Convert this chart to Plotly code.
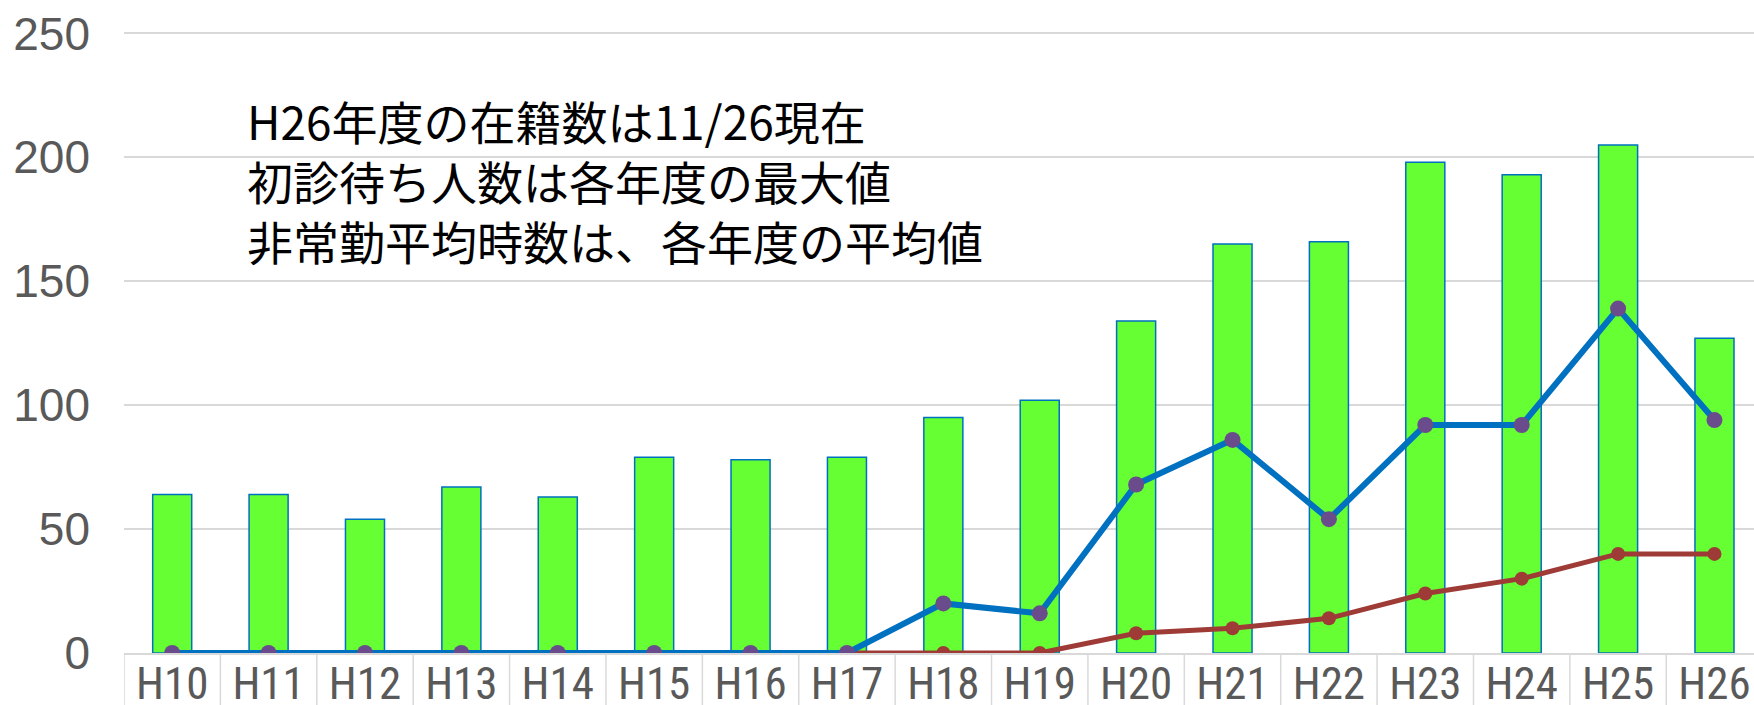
import plotly.graph_objects as go

categories = ["H10", "H11", "H12", "H13", "H14", "H15", "H16", "H17", "H18",
              "H19", "H20", "H21", "H22", "H23", "H24", "H25", "H26"]
enrolled = [64, 64, 54, 67, 63, 79, 78, 79, 95, 102, 134, 165, 166, 198, 193, 205, 127]
waiting = [0, 0, 0, 0, 0, 0, 0, 0, 20, 16, 68, 86, 54, 92, 92, 139, 94]
parttime = [None, None, None, None, None, None, None, 0, 0, 0, 8, 10, 14, 24, 30, 40, 40]
y_ticks = [0, 50, 100, 150, 200, 250]
note_lines = ["H26年度の在籍数は11/26現在",
              "初診待ち人数は各年度の最大値",
              "非常勤平均時数は、各年度の平均値"]

fig = go.Figure()
fig.add_trace(go.Bar(
    x=categories, y=enrolled,
    marker=dict(color="#66FF33", line=dict(color="#0070C0", width=1.5)),
    name="在籍数"))
fig.add_trace(go.Scatter(
    x=categories, y=parttime, mode="lines+markers",
    line=dict(color="#9E3B37", width=5),
    marker=dict(color="#9E3B37", size=14),
    name="非常勤平均時数"))
fig.add_trace(go.Scatter(
    x=categories, y=waiting, mode="lines+markers",
    line=dict(color="#0070C0", width=6),
    marker=dict(color="#6A4C8C", size=16),
    name="初診待ち人数"))

# category boundary lines below the axis
for i in range(len(categories) + 1):
    fig.add_shape(type="line", xref="x", yref="paper",
                  x0=i - 0.5, x1=i - 0.5, y0=0, y1=-0.1,
                  line=dict(color="#D9D9D9", width=1.5))

fig.add_annotation(
    xref="paper", yref="paper", x=0.0743, y=0.913,
    xanchor="left", yanchor="top", align="left", showarrow=False,
    text="<br>".join(note_lines),
    font=dict(family="Noto Sans CJK JP", size=46, color="#000000"))

fig.update_layout(
    width=1754, height=705,
    margin=dict(l=124, r=0, t=31, b=52, autoexpand=False),
    paper_bgcolor="white", plot_bgcolor="white",
    showlegend=False, bargap=0.595,
    xaxis=dict(type="category", range=[-0.5, 16.41],
               showgrid=False, showline=True, linecolor="#D9D9D9", linewidth=1.5,
               ticks="", automargin=False, ticklabelstandoff=-10,
               tickfont=dict(family="Roboto Condensed, DejaVu Sans Condensed", size=45, color="#595959")),
    yaxis=dict(range=[0, 251], tickvals=y_ticks, showgrid=True, gridcolor="#D9D9D9",
               gridwidth=1.5, zeroline=False, showline=False, automargin=False,
               ticklabelstandoff=33,
               tickfont=dict(family="Liberation Sans", size=46, color="#595959")),
)

fig.write_html("out.html", config={"displayModeBar": False},
               post_script="document.body.style.margin='0';")
